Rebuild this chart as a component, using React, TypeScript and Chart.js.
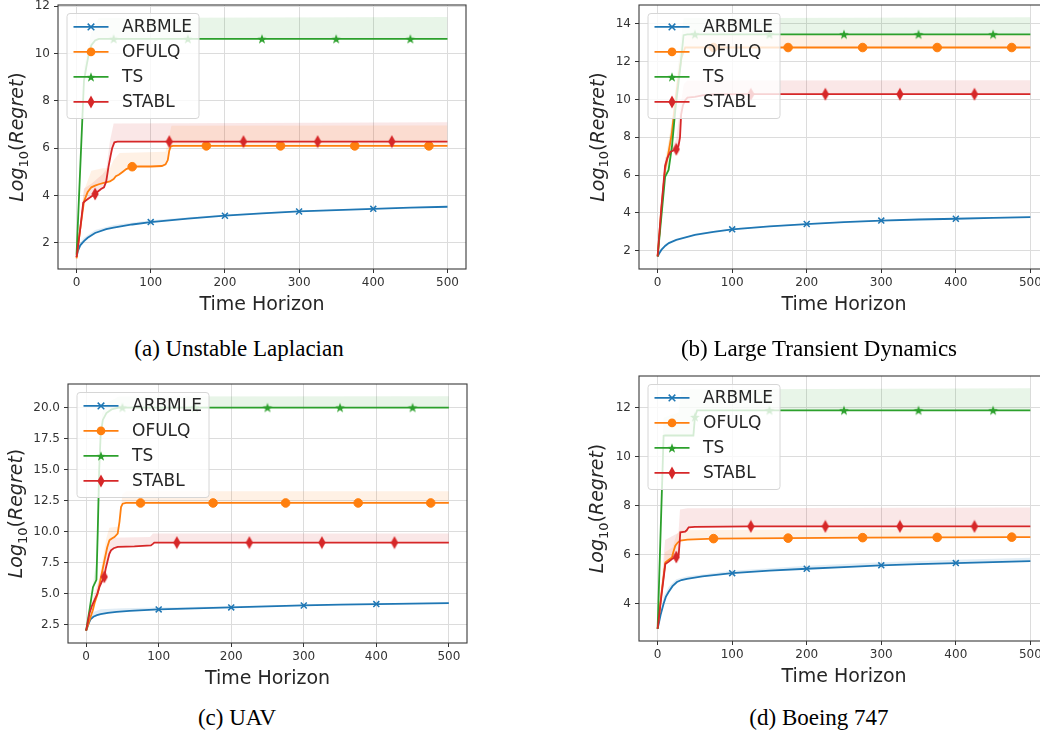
import React, { useEffect, useRef } from "react";
import { Chart, registerables } from "chart.js";
Chart.register(...registerables);

const SERIES = ["ARBMLE", "OFULQ", "TS", "STABL"];
const COLORS = ["#1f77b4", "#ff7f0e", "#2ca02c", "#d62728"];
const BAND = ["rgba(31,119,180,0.13)", "rgba(255,127,14,0.11)", "rgba(44,160,44,0.11)", "rgba(214,39,40,0.11)"];
const MARK_X = [
  [100, 200, 300, 400],
  [75, 175, 275, 375, 475],
  [50, 150, 250, 350, 450],
  [25, 125, 225, 325, 425],
];
const X_TICKS = [0, 100, 200, 300, 400, 500];
const CAPTIONS = ["(a) Unstable Laplacian", "(b) Large Transient Dynamics", "(c) UAV", "(d) Boeing 747"];

// ---- (a) Unstable Laplacian ----
const A_YTICKS = [2, 4, 6, 8, 10, 12];
const A_ARBMLE = [[0,1.42],[2,1.68],[5,1.9],[10,2.08],[15,2.22],[25,2.42],[40,2.58],[50,2.65],[75,2.78],[100,2.88],[150,3.03],[200,3.15],[250,3.25],[300,3.33],[350,3.39],[400,3.44],[450,3.49],[500,3.53]];
const A_ARBMLE_UP = [[0,1.5],[5,2.02],[10,2.22],[25,2.55],[50,2.76],[100,2.96],[200,3.2],[300,3.37],[400,3.47],[500,3.56]];
const A_OFULQ = [[0,1.35],[5,2.6],[10,3.75],[15,4.15],[20,4.35],[25,4.42],[30,4.48],[38,4.55],[45,4.6],[50,4.7],[53,4.82],[57,4.88],[62,5.0],[67,5.12],[75,5.22],[85,5.23],[100,5.23],[115,5.25],[120,5.32],[123,5.5],[125,5.9],[127,6.08],[130,6.1],[175,6.1],[275,6.1],[375,6.1],[475,6.1],[500,6.1]];
const A_OFULQ_UP = [[0,1.4],[10,4.2],[20,5.05],[35,5.15],[45,5.15],[50,5.5],[58,5.8],[120,5.85],[124,6.4],[128,6.95],[500,6.96]];
const A_TS = [[0,1.5],[10,8.85],[13,9.4],[16,9.9],[20,10.35],[25,10.55],[30,10.62],[50,10.62],[150,10.62],[250,10.62],[350,10.62],[450,10.62],[500,10.62]];
const A_TS_UP = [[0,1.6],[10,9.4],[20,10.9],[30,11.5],[500,11.54]];
const A_STABL = [[0,1.4],[5,2.6],[9,3.7],[12,3.78],[18,3.92],[22,4.0],[25,4.07],[28,4.15],[33,4.28],[37,4.35],[40,4.6],[43,5.2],[46,5.7],[48,6.0],[51,6.25],[55,6.28],[125,6.28],[225,6.28],[325,6.28],[425,6.28],[500,6.28]];
const A_STABL_UP = [[0,1.45],[10,4.3],[20,4.5],[35,4.9],[40,5.1],[45,6.3],[50,7.05],[500,7.1]];

// ---- (b) Large Transient Dynamics ----
const B_YTICKS = [2, 4, 6, 8, 10, 12, 14];
const B_ARBMLE = [[0,1.68],[2,1.85],[5,2.04],[10,2.25],[15,2.4],[25,2.57],[50,2.83],[75,3.0],[100,3.13],[150,3.29],[200,3.41],[250,3.51],[300,3.59],[350,3.65],[400,3.69],[450,3.74],[500,3.78]];
const B_ARBMLE_UP = [[0,1.72],[10,2.35],[50,2.9],[100,3.18],[200,3.45],[300,3.63],[400,3.73],[500,3.82]];
const B_OFULQ = [[0,1.7],[5,4.2],[10,6.3],[13,6.85],[16,7.5],[19,8.2],[24,10.0],[28,11.2],[32,12.2],[37,12.75],[75,12.75],[175,12.75],[275,12.75],[375,12.75],[475,12.75],[500,12.75]];
const B_OFULQ_UP = [[0,1.8],[10,6.8],[20,9.0],[30,12.5],[38,13.4],[500,13.45]];
const B_TS = [[0,1.7],[10,5.9],[14.7,6.27],[19.2,7.5],[23.7,9.44],[30.4,11.7],[34.8,13.4],[40,13.45],[50,13.45],[150,13.45],[250,13.45],[350,13.45],[450,13.45],[500,13.45]];
const B_TS_UP = [[0,1.8],[10,6.2],[20,9.2],[30,12.8],[35,14.3],[500,14.35]];
const B_STABL = [[0,1.7],[5,4.3],[10,6.5],[13,6.9],[17,7.23],[21,7.3],[25,7.37],[28,7.55],[30,8.0],[31.5,9.2],[34,9.7],[37,9.96],[40,10.1],[50,10.14],[60,10.22],[75,10.27],[125,10.28],[225,10.28],[325,10.28],[425,10.28],[500,10.28]];
const B_STABL_UP = [[0,1.8],[10,6.9],[25,7.9],[30,9.5],[35,10.8],[40,11.0],[500,11.02]];

// ---- (c) UAV ----
const C_YTICKS = [2.5, 5, 7.5, 10, 12.5, 15, 17.5, 20];
const C_ARBMLE = [[0,2.0],[3,2.5],[6,2.9],[10,3.12],[15,3.25],[20,3.33],[30,3.43],[42,3.52],[60,3.6],[100,3.71],[150,3.8],[200,3.87],[250,3.95],[300,4.03],[350,4.09],[400,4.14],[450,4.18],[500,4.22]];
const C_ARBMLE_UP = [[0,2.05],[10,3.5],[20,3.72],[50,3.8],[100,3.86],[200,3.96],[300,4.1],[500,4.28]];
const C_OFULQ = [[0,2.0],[5,2.9],[9.2,3.65],[12,4.3],[16,5.0],[20.6,6.33],[25.3,7.68],[29,8.7],[32.1,9.29],[36,9.45],[39,9.55],[43.5,9.83],[46,10.8],[48.1,11.97],[50.4,12.24],[55,12.3],[75,12.3],[175,12.3],[275,12.3],[375,12.3],[475,12.3],[500,12.3]];
const C_OFULQ_UP = [[0,2.05],[10,4.0],[20,6.8],[28,9.5],[32,10.3],[45,10.4],[50,13.0],[55,13.24],[500,13.24]];
const C_TS = [[0,2.0],[5,3.8],[9.4,5.5],[14.2,6.1],[16,10],[18,15],[20,17.8],[23,19.0],[28,19.55],[35,19.85],[45,20.0],[50,20.0],[150,20.0],[250,20.0],[350,20.0],[450,20.0],[500,20.0]];
const C_TS_UP = [[0,2.05],[10,6.0],[15,8.0],[18,16.0],[22,19.5],[30,20.4],[45,20.9],[500,20.92]];
const C_STABL = [[0,2.0],[4.6,3.39],[8,4.0],[11.5,4.46],[15,4.9],[18.4,5.53],[22,6.0],[25,6.34],[27,7.0],[29.8,7.68],[32,8.2],[34.3,8.48],[38,8.65],[43.5,8.75],[66.5,8.8],[89.3,8.88],[92,9.0],[94,9.1],[125,9.1],[225,9.1],[325,9.1],[425,9.1],[500,9.1]];
const C_STABL_UP = [[0,2.05],[10,4.7],[20,6.5],[28,8.5],[32,9.5],[88,9.56],[92,9.83],[500,9.83]];

// ---- (d) Boeing 747 ----
const D_YTICKS = [4, 6, 8, 10, 12];
const D_ARBMLE = [[0,2.98],[4,3.55],[8,4.0],[11,4.28],[14.7,4.48],[20,4.72],[25.9,4.89],[32,4.97],[39.3,5.02],[60,5.12],[100,5.25],[150,5.35],[200,5.43],[250,5.5],[300,5.57],[350,5.62],[400,5.66],[450,5.7],[500,5.74]];
const D_ARBMLE_UP = [[0,3.0],[8,4.3],[15,4.7],[25,5.0],[40,5.12],[100,5.35],[200,5.55],[300,5.7],[400,5.8],[500,5.88]];
const D_OFULQ = [[0,2.98],[5,4.4],[10.3,5.69],[15,5.8],[19.2,5.89],[21,6.1],[23.7,6.37],[27,6.5],[30.4,6.58],[40,6.62],[75,6.66],[175,6.68],[275,6.7],[375,6.71],[475,6.72],[500,6.72]];
const D_OFULQ_UP = [[0,3.0],[10,6.1],[20,6.3],[25,6.8],[30,7.0],[500,7.1]];
const D_TS = [[0,2.98],[8,10.86],[10,10.87],[48,10.87],[50,11.63],[53,11.9],[60,11.9],[150,11.9],[250,11.9],[350,11.9],[450,11.9],[500,11.9]];
const D_TS_UP = [[0,3.0],[8,11.6],[28,11.8],[32,12.75],[500,12.8]];
const D_STABL = [[0,2.98],[5,4.3],[10.3,5.62],[15,5.72],[19.2,5.83],[25,5.91],[28.2,5.99],[29.5,6.5],[30.4,6.92],[37,6.95],[39,7.0],[41.6,7.12],[50,7.14],[125,7.16],[225,7.16],[325,7.16],[425,7.16],[500,7.16]];
const D_STABL_UP = [[0,3.0],[10,6.6],[28,6.9],[30,7.85],[40,7.9],[500,7.93]];

const PANEL_DATA = [
  { yticks: A_YTICKS, dec: 0, ymin: 0.9, ymax: 12.05, lines: [A_ARBMLE, A_OFULQ, A_TS, A_STABL], bands: [A_ARBMLE_UP, A_OFULQ_UP, A_TS_UP, A_STABL_UP] },
  { yticks: B_YTICKS, dec: 0, ymin: 1.03, ymax: 15.0, lines: [B_ARBMLE, B_OFULQ, B_TS, B_STABL], bands: [B_ARBMLE_UP, B_OFULQ_UP, B_TS_UP, B_STABL_UP] },
  { yticks: C_YTICKS, dec: 1, ymin: 1.0, ymax: 21.9, lines: [C_ARBMLE, C_OFULQ, C_TS, C_STABL], bands: [C_ARBMLE_UP, C_OFULQ_UP, C_TS_UP, C_STABL_UP] },
  { yticks: D_YTICKS, dec: 0, ymin: 2.48, ymax: 13.3, lines: [D_ARBMLE, D_OFULQ, D_TS, D_STABL], bands: [D_ARBMLE_UP, D_OFULQ_UP, D_TS_UP, D_STABL_UP] },
];

// layout (pixel geometry of each plot area in the page)
const LAYOUT = [
  { left: 58, top: 5, right: 466, bottom: 269, ytitle: 40, capX: 239, capY: 349 },
  { left: 639, top: 5, right: 1049, bottom: 269, ytitle: 40.5, capX: 819, capY: 349 },
  { left: 68, top: 384, right: 467, bottom: 643, ytitle: 51, capX: 237, capY: 718 },
  { left: 639, top: 376, right: 1049, bottom: 641, ytitle: 41, capX: 819, capY: 718 },
];

const PAD_L = 70, PAD_T = 20, PAD_R = 30, PAD_B = 60, YAXIS_W = 60, XAXIS_H = 30;
const FONT = '"DejaVu Sans", sans-serif';

const toXY = (pts: number[][]) => pts.map(([x, y]) => ({ x, y }));

function makeMarkers() {
  const star = document.createElement("canvas");
  star.width = 12; star.height = 12;
  let g = star.getContext("2d")!;
  g.fillStyle = COLORS[2];
  g.beginPath();
  for (let k = 0; k < 10; k++) {
    const r = k % 2 === 0 ? 5.2 : 2.1;
    const a = -Math.PI / 2 + (k * Math.PI) / 5;
    const px = 6 + r * Math.cos(a), py = 6.5 + r * Math.sin(a);
    if (k === 0) g.moveTo(px, py); else g.lineTo(px, py);
  }
  g.closePath();
  g.fill();
  const dia = document.createElement("canvas");
  dia.width = 8; dia.height = 14;
  g = dia.getContext("2d")!;
  g.fillStyle = COLORS[3];
  g.beginPath();
  g.moveTo(4, 0.5); g.lineTo(7.6, 7); g.lineTo(4, 13.5); g.lineTo(0.4, 7);
  g.closePath();
  g.fill();
  return { star, dia };
}

function drawLegendMarker(ctx: CanvasRenderingContext2D, i: number, x: number, y: number, mk: any) {
  ctx.save();
  if (i === 0) {
    ctx.strokeStyle = COLORS[0]; ctx.lineWidth = 1.5;
    const r = 3.3;
    ctx.beginPath();
    ctx.moveTo(x - r, y - r); ctx.lineTo(x + r, y + r);
    ctx.moveTo(x + r, y - r); ctx.lineTo(x - r, y + r);
    ctx.stroke();
  } else if (i === 1) {
    ctx.fillStyle = COLORS[1];
    ctx.beginPath(); ctx.arc(x, y, 4.3, 0, Math.PI * 2); ctx.fill();
  } else {
    const img = i === 2 ? mk.star : mk.dia;
    ctx.drawImage(img, Math.round(x - img.width / 2), Math.round(y - img.height / 2));
  }
  ctx.restore();
}

function Panel({ idx }: { idx: number }) {
  const ref = useRef<HTMLCanvasElement>(null);
  const L = LAYOUT[idx];
  const P = PANEL_DATA[idx];
  const plotW = L.right - L.left, plotH = L.bottom - L.top;
  const cw = plotW + PAD_L + PAD_R, ch = plotH + PAD_T + PAD_B;

  useEffect(() => {
    const mk = makeMarkers();
    const styles: any[] = ["crossRot", "circle", mk.star, mk.dia];
    const radii = [4.2, 4.3, 5, 5];
    const datasets: any[] = [];
    P.lines.forEach((pts, i) => {
      datasets.push({
        label: SERIES[i],
        data: toXY(pts),
        borderColor: COLORS[i],
        backgroundColor: COLORS[i],
        borderWidth: 1.8,
        pointStyle: styles[i],
        pointBorderColor: COLORS[i],
        pointBackgroundColor: COLORS[i],
        pointBorderWidth: i === 0 ? 1.5 : 1,
        pointRadius: (c: any) => (c.raw && MARK_X[i].includes(c.raw.x) ? radii[i] : 0),
        fill: false,
        tension: 0,
        order: 4 - i,
      });
    });
    P.bands.forEach((pts, i) => {
      datasets.push({
        label: SERIES[i] + " band",
        data: toXY(pts),
        borderWidth: 0,
        borderColor: "rgba(0,0,0,0)",
        backgroundColor: BAND[i],
        pointRadius: 0,
        fill: { target: i, above: BAND[i], below: BAND[i] },
        tension: 0,
        order: 10 + i,
      });
    });

    const decor = {
      id: "decor",
      afterDatasetsDraw(chart: any) {
        const ctx: CanvasRenderingContext2D = chart.ctx;
        const a = chart.chartArea;
        const bx = a.left + 9, by = a.top + 8.5, bw = 132, bh = 105;
        ctx.save();
        ctx.beginPath();
        const r = 3;
        ctx.moveTo(bx + r, by);
        ctx.arcTo(bx + bw, by, bx + bw, by + bh, r);
        ctx.arcTo(bx + bw, by + bh, bx, by + bh, r);
        ctx.arcTo(bx, by + bh, bx, by, r);
        ctx.arcTo(bx, by, bx + bw, by, r);
        ctx.closePath();
        ctx.fillStyle = "rgba(255,255,255,0.8)";
        ctx.fill();
        ctx.strokeStyle = "#d6d6d6";
        ctx.lineWidth = 1;
        ctx.stroke();
        for (let i = 0; i < 4; i++) {
          const y = by + 13.4 + 25 * i;
          ctx.strokeStyle = COLORS[i];
          ctx.lineWidth = 1.8;
          ctx.beginPath();
          ctx.moveTo(bx + 6.5, y); ctx.lineTo(bx + 41.5, y);
          ctx.stroke();
          drawLegendMarker(ctx, i, bx + 24, y, mk);
          ctx.fillStyle = "#262626";
          ctx.font = `17px ${FONT}`;
          ctx.textBaseline = "middle";
          ctx.textAlign = "left";
          ctx.fillText(SERIES[i], bx + 55, y + 1);
        }
        ctx.restore();
      },
      afterDraw(chart: any) {
        const ctx: CanvasRenderingContext2D = chart.ctx;
        const a = chart.chartArea;
        ctx.save();
        // frame
        ctx.strokeStyle = "#3a3a3a";
        ctx.lineWidth = 1.1;
        ctx.strokeRect(a.left, a.top, a.right - a.left, a.bottom - a.top);
        // x title
        ctx.fillStyle = "#262626";
        ctx.font = `19px ${FONT}`;
        ctx.textAlign = "center";
        ctx.textBaseline = "alphabetic";
        ctx.fillText("Time Horizon", (a.left + a.right) / 2, a.bottom + 41);
        // y title with subscript
        const parts = [
          { t: "Log", f: `italic 19px ${FONT}`, dy: 0 },
          { t: "10", f: `13px ${FONT}`, dy: 4.5 },
          { t: "(", f: `19px ${FONT}`, dy: 0 },
          { t: "Regret", f: `italic 19px ${FONT}`, dy: 0 },
          { t: ")", f: `19px ${FONT}`, dy: 0 },
        ];
        let total = 0;
        const widths = parts.map((p) => { ctx.font = p.f; const w = ctx.measureText(p.t).width; total += w; return w; });
        ctx.translate(a.left - L.ytitle + 5, (a.top + a.bottom) / 2);
        ctx.rotate(-Math.PI / 2);
        ctx.textAlign = "left";
        let x = -total / 2;
        parts.forEach((p, k) => {
          ctx.font = p.f;
          ctx.fillText(p.t, x, p.dy);
          x += widths[k];
        });
        ctx.restore();
      },
    };

    const tickFont = { family: "DejaVu Sans", size: 12 };
    const chart = new Chart(ref.current!, {
      type: "line",
      data: { datasets },
      options: {
        animation: false,
        responsive: false,
        maintainAspectRatio: false,
        events: [],
        layout: { padding: { left: PAD_L - YAXIS_W, top: PAD_T, right: PAD_R, bottom: PAD_B - XAXIS_H } },
        plugins: { legend: { display: false }, tooltip: { enabled: false } },
        scales: {
          x: {
            type: "linear",
            min: -25,
            max: 525,
            afterFit: (s: any) => { s.height = XAXIS_H; },
            afterBuildTicks: (s: any) => { s.ticks = X_TICKS.map((v) => ({ value: v })); },
            ticks: { font: tickFont, color: "#333", padding: 3, autoSkip: false, maxRotation: 0, callback: (v: any) => String(v) },
            grid: { color: "#dcdcdc", lineWidth: 1, tickLength: 4, tickColor: "#333", tickWidth: 1 },
            border: { display: false },
          },
          y: {
            type: "linear",
            min: P.ymin,
            max: P.ymax,
            afterFit: (s: any) => { s.width = YAXIS_W; },
            afterBuildTicks: (s: any) => { s.ticks = P.yticks.map((v) => ({ value: v })); },
            ticks: { font: tickFont, color: "#333", padding: 4, autoSkip: false, callback: (v: any) => (P.dec ? Number(v).toFixed(1) : String(v)) },
            grid: { color: "#dcdcdc", lineWidth: 1, tickLength: 4, tickColor: "#333", tickWidth: 1 },
            border: { display: false },
          },
        },
      } as any,
      plugins: [decor],
    });
    return () => chart.destroy();
  }, []);

  return (
    <canvas
      ref={ref}
      width={cw}
      height={ch}
      style={{ position: "absolute", left: L.left - PAD_L, top: L.top - PAD_T, width: cw, height: ch }}
    />
  );
}

export default function App() {
  return (
    <div style={{ position: "absolute", left: 0, top: 0, width: 1040, height: 736, overflow: "hidden", background: "#fff" }}>
      {LAYOUT.map((_, i) => (
        <Panel key={i} idx={i} />
      ))}
      {LAYOUT.map((L, i) => (
        <div
          key={"c" + i}
          style={{
            position: "absolute",
            left: L.capX - 250,
            width: 500,
            top: L.capY - 14,
            height: 28,
            lineHeight: "28px",
            textAlign: "center",
            fontFamily: '"Liberation Serif", "Times New Roman", serif',
            fontSize: 23,
            color: "#000",
          }}
        >
          {CAPTIONS[i]}
        </div>
      ))}
    </div>
  );
}
